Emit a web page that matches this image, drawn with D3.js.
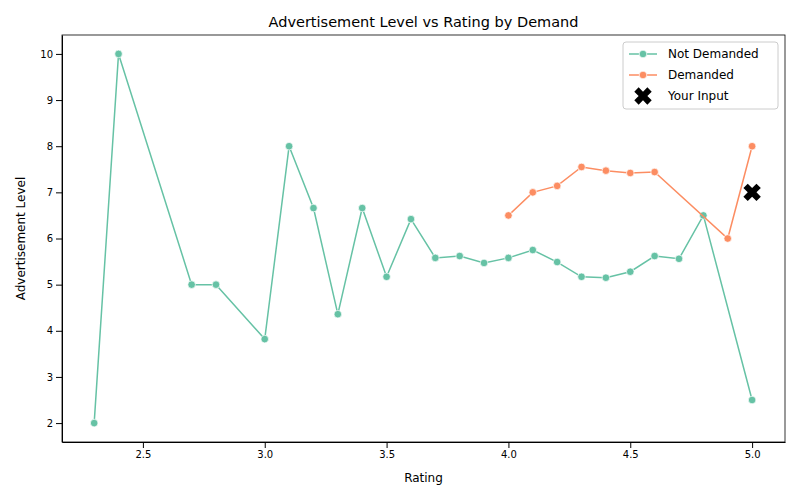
<!DOCTYPE html>
<html>
<head>
<meta charset="UTF-8" />
<script src="https://cdnjs.cloudflare.com/ajax/libs/d3/7.8.5/d3.min.js"></script>
<style>
  body { margin: 0; background: #fff; }
  text { font-family: "DejaVu Sans", sans-serif; }
</style>
</head>
<body>
<div class="chart"></div>
<script>
// data
const notRating = [2.3, 2.4, 2.7, 2.8, 3.0, 3.1, 3.2, 3.3, 3.4, 3.5, 3.6, 3.7, 3.8, 3.9, 4.0, 4.1, 4.2, 4.3, 4.4, 4.5, 4.6, 4.7, 4.8, 5.0]
const notLevel = [2.0, 10.0, 5.0, 5.0, 3.82, 8.0, 6.66, 4.36, 6.66, 5.17, 6.42, 5.58, 5.62, 5.47, 5.58, 5.75, 5.49, 5.17, 5.15, 5.28, 5.62, 5.56, 6.5, 2.5]
const demRating = [4.0, 4.1, 4.2, 4.3, 4.4, 4.5, 4.6, 4.9, 5.0]
const demLevel = [6.5, 7.0, 7.14, 7.55, 7.47, 7.42, 7.44, 6.0, 8.0]
const inputPoint = [5.0, 7.0]
const xTicks = [2.5, 3.0, 3.5, 4.0, 4.5, 5.0]
const yTicks = [2, 3, 4, 5, 6, 7, 8, 9, 10]

const W = 800, H = 500
const m = { left: 62, right: 15, top: 35, bottom: 58 }

const svg = d3.select('.chart').append('svg').attr('width', W).attr('height', H)

const x = d3.scaleLinear().domain([2.168, 5.135]).range([m.left, W - m.right])
const y = d3.scaleLinear().domain([1.59, 10.41]).range([H - m.bottom, m.top])

svg.append('g')
  .attr('transform', `translate(0,${H - m.bottom})`)
  .call(d3.axisBottom(x).tickValues(xTicks).tickFormat(d3.format('.1f')).tickSizeOuter(0))
  .call(g => g.selectAll('text').attr('font-size', 10).attr('fill', '#000'))
svg.append('g')
  .attr('transform', `translate(${m.left},0)`)
  .call(d3.axisLeft(y).tickValues(yTicks).tickSizeOuter(0))
  .call(g => g.selectAll('text').attr('font-size', 10).attr('fill', '#000'))

svg.append('rect')
  .attr('x', m.left).attr('y', m.top)
  .attr('width', W - m.left - m.right).attr('height', H - m.top - m.bottom)
  .attr('fill', 'none').attr('stroke', '#000').attr('stroke-width', 0.8)

const line = d3.line().x(d => x(d[0])).y(d => y(d[1]))
const series = [
  { name: 'Not Demanded', color: '#66c2a5', pts: notRating.map((r, i) => [r, notLevel[i]]) },
  { name: 'Demanded', color: '#fc8d62', pts: demRating.map((r, i) => [r, demLevel[i]]) }
]
series.forEach(s => {
  svg.append('path').datum(s.pts).attr('d', line)
    .attr('fill', 'none').attr('stroke', s.color).attr('stroke-width', 1.5)
  svg.selectAll(null).data(s.pts).join('circle')
    .attr('cx', d => x(d[0])).attr('cy', d => y(d[1])).attr('r', 3.8)
    .attr('fill', s.color).attr('stroke', '#fff').attr('stroke-width', 0.7)
})

// filled X like matplotlib's 'X' marker
const cross = d3.symbol().type(d3.symbolCross).size(190)
svg.append('path').attr('d', cross)
  .attr('transform', `translate(${x(inputPoint[0])},${y(inputPoint[1])}) rotate(45)`)
  .attr('fill', '#000')

svg.append('text').attr('x', (m.left + W - m.right) / 2).attr('y', 27)
  .attr('text-anchor', 'middle').attr('font-size', 14.5).text('Advertisement Level vs Rating by Demand')
svg.append('text').attr('x', (m.left + W - m.right) / 2).attr('y', 482)
  .attr('text-anchor', 'middle').attr('font-size', 12).text('Rating')
svg.append('text').attr('transform', `translate(25,${(m.top + H - m.bottom) / 2}) rotate(-90)`)
  .attr('text-anchor', 'middle').attr('font-size', 12).text('Advertisement Level')

// legend
const lg = svg.append('g').attr('transform', 'translate(623,42)')
lg.append('rect').attr('width', 155).attr('height', 67).attr('rx', 3)
  .attr('fill', '#fff').attr('stroke', '#ccc')
series.forEach((s, i) => {
  const yy = 12 + i * 21
  lg.append('line').attr('x1', 6).attr('x2', 34).attr('y1', yy).attr('y2', yy)
    .attr('stroke', s.color).attr('stroke-width', 1.5)
  lg.append('circle').attr('cx', 20).attr('cy', yy).attr('r', 3.8)
    .attr('fill', s.color).attr('stroke', '#fff').attr('stroke-width', 0.7)
  lg.append('text').attr('x', 45).attr('y', yy + 4).attr('font-size', 12).text(s.name)
})
lg.append('path').attr('d', cross).attr('transform', 'translate(20,54) rotate(45)')
  .attr('fill', '#000')
lg.append('text').attr('x', 45).attr('y', 58).attr('font-size', 12).text('Your Input')
</script>
</body>
</html>
